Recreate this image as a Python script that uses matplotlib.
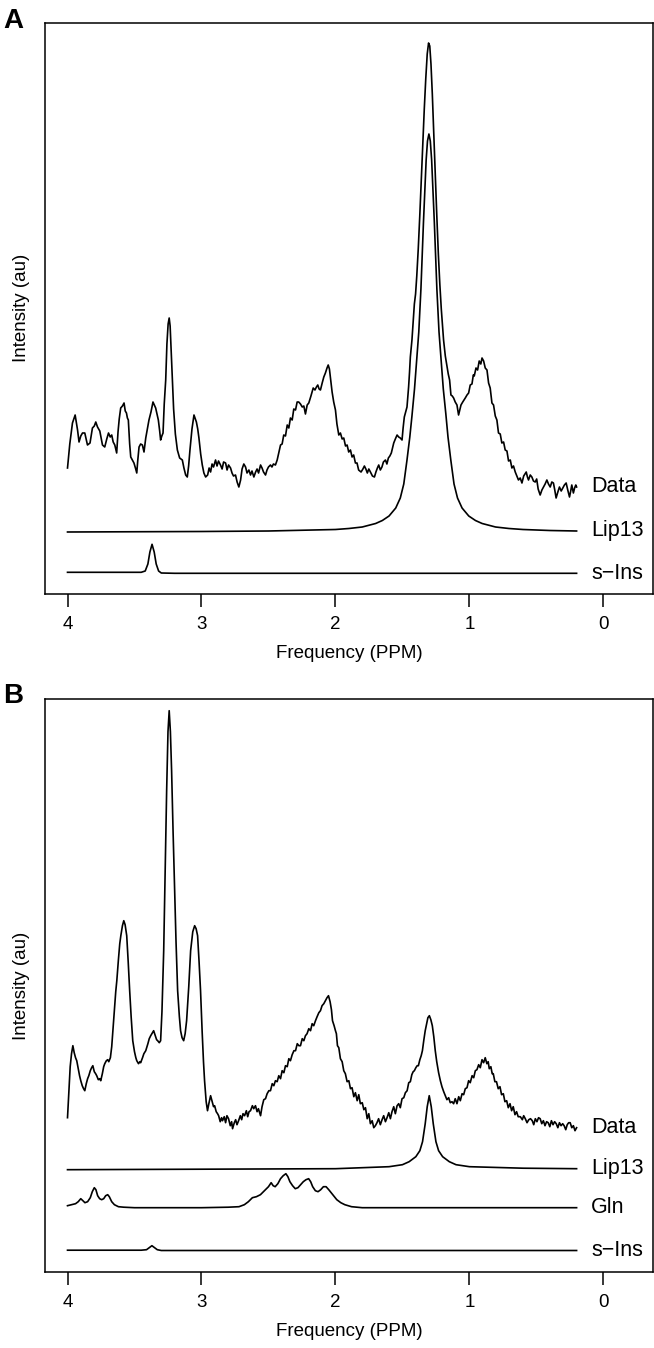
import matplotlib
matplotlib.use("Agg")
import matplotlib.pyplot as plt

plt.rcParams['font.family'] = ['Liberation Sans', 'DejaVu Sans']

# ---------------- Panel A data (ppm, intensity in arbitrary units) ----------------
A_data_ppm = [4.000, 3.983, 3.963, 3.943, 3.925, 3.914, 3.901, 3.888, 3.871, 3.851,
3.832, 3.814, 3.800, 3.789, 3.776, 3.759, 3.739, 3.722, 3.707, 3.694,
3.681, 3.670, 3.659, 3.647, 3.633, 3.623, 3.614, 3.603, 3.590, 3.578,
3.569, 3.560, 3.553, 3.546, 3.536, 3.528, 3.516, 3.504, 3.493, 3.483,
3.476, 3.466, 3.454, 3.441, 3.429, 3.416, 3.404, 3.392, 3.377, 3.362,
3.352, 3.342, 3.332, 3.322, 3.312, 3.305, 3.296, 3.287, 3.278, 3.267,
3.258, 3.249, 3.241, 3.234, 3.225, 3.217, 3.208, 3.195, 3.180, 3.163,
3.143, 3.131, 3.118, 3.106, 3.096, 3.086, 3.071, 3.056, 3.038, 3.028,
3.019, 3.006, 2.994, 2.982, 2.969, 2.954, 2.943, 2.932, 2.921, 2.910,
2.895, 2.884, 2.873, 2.858, 2.846, 2.835, 2.820, 2.809, 2.798, 2.783,
2.772, 2.761, 2.746, 2.734, 2.721, 2.708, 2.697, 2.684, 2.671, 2.660,
2.646, 2.634, 2.623, 2.609, 2.596, 2.585, 2.574, 2.559, 2.548, 2.537,
2.522, 2.511, 2.500, 2.485, 2.474, 2.463, 2.448, 2.435, 2.423, 2.410,
2.398, 2.386, 2.373, 2.360, 2.348, 2.336, 2.323, 2.311, 2.298, 2.286,
2.274, 2.261, 2.248, 2.236, 2.224, 2.211, 2.199, 2.183, 2.166, 2.153,
2.142, 2.132, 2.122, 2.112, 2.099, 2.087, 2.075, 2.063, 2.054, 2.045,
2.034, 2.025, 2.013, 2.000, 1.989, 1.975, 1.963, 1.950, 1.938, 1.925,
1.913, 1.901, 1.888, 1.876, 1.864, 1.851, 1.839, 1.827, 1.809, 1.795,
1.784, 1.773, 1.762, 1.751, 1.739, 1.724, 1.709, 1.698, 1.687, 1.677,
1.665, 1.653, 1.642, 1.627, 1.616, 1.605, 1.594, 1.583, 1.574, 1.565,
1.553, 1.540, 1.528, 1.516, 1.503, 1.495, 1.486, 1.476, 1.466, 1.460,
1.454, 1.447, 1.441, 1.429, 1.419, 1.411, 1.402, 1.393, 1.382, 1.370,
1.359, 1.348, 1.337, 1.326, 1.315, 1.305, 1.296, 1.287, 1.277, 1.266,
1.255, 1.244, 1.232, 1.221, 1.210, 1.193, 1.180, 1.167, 1.158, 1.148,
1.138, 1.128, 1.118, 1.106, 1.093, 1.081, 1.072, 1.063, 1.050, 1.031,
1.018, 1.006, 0.994, 0.981, 0.971, 0.964, 0.951, 0.939, 0.927, 0.915,
0.906, 0.894, 0.882, 0.869, 0.857, 0.845, 0.832, 0.820, 0.807, 0.795,
0.783, 0.770, 0.758, 0.745, 0.733, 0.720, 0.708, 0.695, 0.683, 0.671,
0.658, 0.646, 0.634, 0.621, 0.608, 0.595, 0.576, 0.567, 0.559, 0.546,
0.534, 0.522, 0.509, 0.498, 0.487, 0.472, 0.459, 0.447, 0.435, 0.422,
0.410, 0.397, 0.385, 0.373, 0.363, 0.353, 0.340, 0.328, 0.315, 0.303,
0.291, 0.278, 0.266, 0.253, 0.244, 0.236, 0.224, 0.215, 0.206, 0.200]

A_data_val = [126, 150, 171, 179, 164, 152, 158, 161, 161, 149,
151, 166, 168, 172, 167, 163, 149, 147, 155, 161,
157, 159, 152, 149, 141, 162, 175, 186, 188, 191,
183, 181, 176, 174, 150, 137, 134, 131, 126, 121,
133, 147, 150, 149, 142, 156, 165, 174, 182, 192,
189, 186, 180, 174, 163, 154, 158, 161, 190, 214,
250, 270, 276, 268, 240, 214, 185, 160, 144, 136,
134, 126, 119, 117, 128, 144, 165, 179, 172, 165,
156, 140, 129, 121, 117, 119, 126, 122, 130, 127,
134, 128, 133, 129, 125, 132, 131, 124, 129, 126,
121, 118, 119, 112, 107, 114, 125, 130, 127, 121,
124, 119, 123, 117, 122, 125, 121, 129, 126, 122,
119, 124, 127, 129, 127, 130, 129, 134, 141, 149,
150, 159, 158, 169, 166, 176, 174, 185, 184, 192,
192, 190, 187, 188, 180, 189, 191, 198, 206, 204,
207, 209, 205, 204, 211, 217, 221, 226, 229, 225,
212, 202, 192, 184, 170, 159, 161, 155, 156, 148,
149, 142, 144, 137, 139, 131, 131, 124, 122, 125,
128, 125, 121, 125, 122, 118, 117, 122, 126, 129,
124, 127, 132, 134, 130, 136, 138, 141, 146, 151,
155, 159, 157, 156, 154, 166, 177, 182, 187, 197,
207, 222, 237, 254, 274, 290, 300, 318, 345, 380,
415, 450, 485, 515, 540, 551, 548, 530, 500, 460,
420, 380, 340, 310, 285, 254, 238, 227, 220, 214,
199, 198, 196, 192, 189, 179, 184, 189, 192, 196,
199, 201, 209, 210, 219, 218, 226, 224, 233, 230,
236, 233, 226, 224, 211, 206, 191, 189, 178, 174,
161, 160, 151, 152, 144, 143, 133, 134, 126, 128,
122, 118, 114, 116, 111, 118, 122, 117, 114, 119,
117, 113, 112, 115, 105, 99, 104, 107, 110, 114,
110, 107, 112, 111, 104, 96, 102, 107, 103, 106,
109, 111, 104, 97, 103, 109, 101, 106, 109, 107]

A_lip_ppm = [4.0, 3.0, 2.5, 2.0, 1.9, 1.8, 1.7, 1.65, 1.6, 1.55, 1.516, 1.49, 1.466,
             1.445, 1.429, 1.41, 1.392, 1.378, 1.362, 1.343, 1.323, 1.313, 1.3025,
             1.292, 1.282, 1.262, 1.243, 1.227, 1.213, 1.195, 1.176, 1.16, 1.139,
             1.115, 1.089, 1.055, 1.005, 0.955, 0.905, 0.805, 0.705, 0.6, 0.4, 0.2]
A_lip_val = [62, 62.5, 63, 64.5, 65.5, 67, 70.5, 73.5, 78, 86, 96, 110, 134,
             157, 178, 205, 237, 262, 305, 372, 434, 453, 460,
             453, 434, 372, 305, 262, 237, 205, 180, 157, 134,
             110, 96, 86, 78, 73.5, 70.5, 67, 65.5, 64.5, 63.5, 63]

A_ins_ppm = [4.0, 3.6, 3.45, 3.42, 3.40, 3.385, 3.369, 3.353, 3.338, 3.32, 3.30, 3.2, 2.0, 0.2]
A_ins_val = [21.7, 21.7, 21.7, 23, 30, 42, 49.7, 42, 30, 23, 21, 20.7, 20.7, 20.7]

# ---------------- Panel B ----------------
B_data_ppm = [4.000, 3.990, 3.980, 3.970, 3.960, 3.950, 3.940, 3.931, 3.920, 3.910,
3.901, 3.890, 3.880, 3.871, 3.860, 3.850, 3.841, 3.830, 3.820, 3.811,
3.800, 3.790, 3.782, 3.770, 3.760, 3.752, 3.740, 3.730, 3.722, 3.710,
3.700, 3.692, 3.680, 3.670, 3.662, 3.650, 3.640, 3.632, 3.620, 3.610,
3.602, 3.590, 3.580, 3.570, 3.558, 3.547, 3.536, 3.525, 3.513, 3.500,
3.490, 3.483, 3.470, 3.460, 3.454, 3.440, 3.430, 3.416, 3.400, 3.390,
3.379, 3.370, 3.357, 3.345, 3.335, 3.327, 3.315, 3.305, 3.295, 3.282,
3.270, 3.260, 3.250, 3.241, 3.232, 3.223, 3.212, 3.200, 3.190, 3.178,
3.165, 3.156, 3.145, 3.133, 3.122, 3.111, 3.095, 3.081, 3.065, 3.051,
3.040, 3.029, 3.018, 3.007, 2.995, 2.985, 2.977, 2.965, 2.955, 2.945,
2.932, 2.920, 2.910, 2.902, 2.890, 2.880, 2.872, 2.860, 2.850, 2.843,
2.830, 2.820, 2.810, 2.798, 2.785, 2.775, 2.768, 2.755, 2.745, 2.735,
2.723, 2.710, 2.700, 2.690, 2.678, 2.665, 2.655, 2.645, 2.634, 2.620,
2.610, 2.597, 2.585, 2.575, 2.559, 2.548, 2.535, 2.522, 2.510, 2.497,
2.485, 2.472, 2.460, 2.448, 2.435, 2.423, 2.410, 2.398, 2.385, 2.373,
2.360, 2.348, 2.336, 2.323, 2.310, 2.298, 2.285, 2.273, 2.261, 2.248,
2.236, 2.224, 2.212, 2.199, 2.186, 2.174, 2.162, 2.149, 2.137, 2.124,
2.112, 2.100, 2.087, 2.075, 2.063, 2.052, 2.040, 2.030, 2.022, 2.010,
2.000, 1.993, 1.985, 1.975, 1.963, 1.950, 1.938, 1.926, 1.913, 1.900,
1.888, 1.876, 1.863, 1.851, 1.838, 1.826, 1.814, 1.800, 1.788, 1.776,
1.763, 1.751, 1.739, 1.726, 1.714, 1.702, 1.690, 1.678, 1.665, 1.652,
1.640, 1.627, 1.615, 1.602, 1.590, 1.578, 1.565, 1.553, 1.540, 1.528,
1.516, 1.503, 1.490, 1.478, 1.465, 1.453, 1.441, 1.430, 1.420, 1.411,
1.400, 1.390, 1.381, 1.370, 1.360, 1.351, 1.340, 1.330, 1.322, 1.310,
1.299, 1.288, 1.277, 1.266, 1.255, 1.244, 1.230, 1.217, 1.205, 1.192,
1.180, 1.168, 1.155, 1.143, 1.130, 1.118, 1.106, 1.093, 1.080, 1.068,
1.055, 1.043, 1.031, 1.018, 1.006, 0.994, 0.980, 0.968, 0.956, 0.944,
0.931, 0.919, 0.906, 0.894, 0.882, 0.870, 0.860, 0.852, 0.840, 0.830,
0.822, 0.810, 0.798, 0.785, 0.772, 0.760, 0.747, 0.735, 0.722, 0.710,
0.697, 0.685, 0.673, 0.660, 0.648, 0.636, 0.620, 0.605, 0.595, 0.583,
0.570, 0.557, 0.544, 0.531, 0.520, 0.508, 0.496, 0.484, 0.472, 0.460,
0.448, 0.436, 0.424, 0.412, 0.400, 0.388, 0.376, 0.364, 0.352, 0.340,
0.328, 0.316, 0.304, 0.293, 0.281, 0.270, 0.259, 0.248, 0.236, 0.224,
0.212, 0.200]

B_data_val = [154, 180, 205, 218, 226, 219, 214, 211, 203, 196,
191, 186, 183, 181, 188, 193, 196, 201, 204, 206,
200, 198, 196, 192, 193, 191, 198, 205, 208, 211,
212, 210, 214, 225, 240, 262, 280, 291, 312, 328,
336, 346, 351, 347, 336, 310, 281, 255, 231, 220,
214, 211, 208, 210, 209, 214, 218, 221, 228, 233,
236, 238, 241, 236, 232, 231, 229, 231, 260, 321,
410, 481, 540, 561, 540, 501, 440, 381, 330, 281,
255, 241, 234, 231, 238, 251, 285, 321, 340, 346,
343, 336, 310, 281, 240, 210, 191, 170, 161, 168,
176, 170, 165, 166, 160, 158, 156, 150, 154, 151,
155, 149, 156, 153, 146, 150, 143, 149, 152, 147,
151, 156, 152, 158, 156, 161, 155, 160, 161, 166,
163, 166, 160, 163, 156, 165, 172, 173, 178, 181,
181, 188, 186, 191, 190, 196, 193, 201, 199, 206,
205, 213, 211, 217, 221, 221, 228, 226, 226, 233,
231, 236, 238, 243, 241, 248, 246, 251, 255, 259,
261, 266, 268, 271, 274, 276, 270, 262, 251, 246,
241, 238, 226, 224, 213, 210, 201, 198, 190, 191,
183, 184, 175, 179, 171, 177, 168, 169, 162, 164,
153, 158, 148, 151, 144, 146, 149, 153, 147, 152,
156, 150, 154, 159, 153, 160, 165, 158, 166, 168,
164, 173, 174, 179, 181, 189, 190, 197, 200, 201,
204, 206, 206, 212, 216, 221, 232, 241, 246, 254,
256, 252, 246, 235, 221, 210, 199, 191, 185, 180,
176, 172, 174, 169, 170, 168, 173, 168, 175, 171,
178, 177, 183, 184, 191, 189, 196, 194, 201, 202,
207, 204, 212, 209, 214, 208, 210, 203, 205, 198,
198, 190, 190, 183, 185, 177, 178, 170, 171, 164,
168, 161, 165, 157, 160, 155, 155, 152, 156, 153,
149, 152, 153, 151, 147, 153, 150, 154, 153, 148,
151, 146, 150, 149, 145, 151, 147, 150, 148, 144,
149, 146, 148, 146, 142, 147, 149, 149, 144, 146,
141, 144]

B_lip_ppm = [4.0, 3.0, 2.0, 1.6, 1.5, 1.45, 1.40, 1.37, 1.35, 1.33, 1.315, 1.30,
             1.285, 1.27, 1.25, 1.23, 1.20, 1.15, 1.10, 1.0, 0.6, 0.2]
B_lip_val = [102, 102.5, 103, 105, 107, 110, 115, 121, 130, 148, 165, 176,
             165, 148, 130, 121, 115, 110, 107, 105, 103.5, 103]

B_gln_ppm = [4.000, 3.970, 3.940, 3.920, 3.901, 3.885, 3.870, 3.850, 3.830, 3.815,
             3.800, 3.788, 3.775, 3.760, 3.745, 3.730, 3.715, 3.700, 3.688, 3.670,
             3.650, 3.620, 3.580, 3.5, 3.2, 3.0, 2.8, 2.72, 2.68, 2.65,
             2.62, 2.59, 2.56, 2.53, 2.50, 2.48, 2.465, 2.45, 2.43, 2.41,
             2.39, 2.37, 2.355, 2.34, 2.32, 2.30, 2.28, 2.26, 2.24, 2.22,
             2.20, 2.185, 2.17, 2.15, 2.13, 2.11, 2.09, 2.07, 2.05, 2.02,
             1.99, 1.96, 1.93, 1.88, 1.8, 1.5, 1.0, 0.5, 0.2]
B_gln_val = [66, 67, 68, 70, 73, 71, 69, 70, 74, 80,
             84, 82, 76, 73, 72, 73, 76, 77, 75, 70,
             67, 65, 64.5, 64, 64, 64, 64.5, 65, 67, 70,
             74, 75, 77, 81, 85, 89, 86, 85, 88, 93,
             96, 98, 95, 90, 86, 83, 84, 87, 90, 92,
             93, 90, 85, 81, 80, 82, 85, 85, 82, 77,
             72, 69, 67, 65, 64, 64, 64, 64, 64]

B_ins_ppm = [4.0, 3.45, 3.41, 3.39, 3.37, 3.35, 3.33, 3.30, 0.2]
B_ins_val = [21.5, 21.5, 22, 24, 26, 24, 22, 21.2, 21.2]

xticks = [4, 3, 2, 1, 0]

# ---------------- Figure ----------------
W, H = 654, 1348
fig = plt.figure(figsize=(W / 100, H / 100), dpi=100)


def make_axes(top, bottom):
    return fig.add_axes([45 / W, 1 - bottom / H, (652.7 - 45) / W, (bottom - top) / H])


panels = [
    (make_axes(22.7, 594.0), 571.3, 'A', 28,
     [(A_data_ppm, A_data_val, 'Data'), (A_lip_ppm, A_lip_val, 'Lip13'),
      (A_ins_ppm, A_ins_val, 's\u2212Ins')]),
    (make_axes(699.3, 1271.7), 572.4, 'B', 703,
     [(B_data_ppm, B_data_val, 'Data'), (B_lip_ppm, B_lip_val, 'Lip13'),
      (B_gln_ppm, B_gln_val, 'Gln'), (B_ins_ppm, B_ins_val, 's\u2212Ins')]),
]

for ax, ytop, letter, base_y, curves in panels:
    for xs, ys, name in curves:
        ax.plot(xs, ys, color='black', lw=1.2, solid_joinstyle='round')
        ax.annotate(name, xy=(xs[-1], ys[-1]), xytext=(10.5, 0),
                    textcoords='offset points', ha='left', va='center',
                    fontsize=15.5)
    ax.set_xlim(4.168, -0.368)
    ax.set_ylim(0, ytop)
    ax.set_xticks(xticks)
    ax.set_xticklabels([str(t) for t in xticks])
    ax.set_yticks([])
    for sp in ax.spines.values():
        sp.set_linewidth(1.1)
    ax.tick_params(axis='x', direction='out', length=9, width=1.1,
                   labelsize=13.5, pad=7)
    ax.set_xlabel('Frequency (PPM)', fontsize=13.5)
    ax.xaxis.set_label_coords(0.5, -0.089)
    ax.set_ylabel('Intensity (au)', fontsize=13.5)
    ax.yaxis.set_label_coords(-0.024, 0.5)
    fig.text(3 / W, 1 - base_y / H, letter, fontsize=20, fontweight='bold',
             ha='left', va='baseline')

fig.savefig('out.png', dpi=100)
